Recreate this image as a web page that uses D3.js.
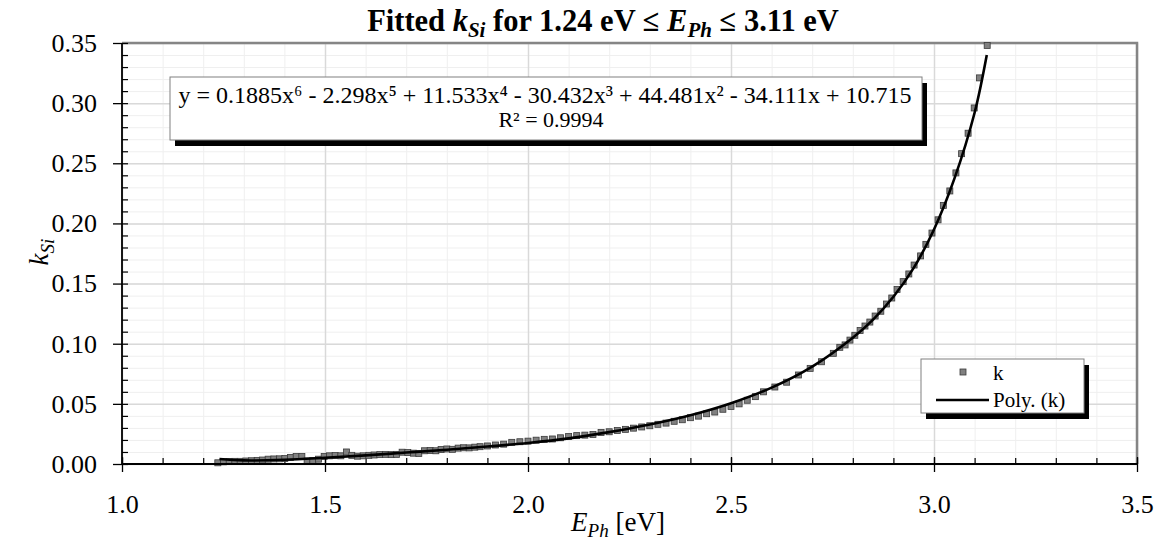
<!DOCTYPE html>
<html>
<head>
<meta charset="utf-8">
<script src="https://cdn.jsdelivr.net/npm/d3@7/dist/d3.min.js"></script>
<style>
  body { margin: 0; background: #fff; }
  svg { font-family: 'Liberation Serif', 'Times New Roman', serif; }
  .tick text { font-size: 26px; fill: #000; }
</style>
</head>
<body>
<svg width="1163" height="541"></svg>
<script>
// measured points (photon energy in eV, extinction coefficient k)
const energy = [
  1.236, 1.250, 1.264, 1.278, 1.291, 1.305, 1.319, 1.333, 1.346, 1.360,
  1.374, 1.388, 1.401, 1.415, 1.429, 1.443, 1.456, 1.470, 1.484, 1.498,
  1.511, 1.525, 1.539, 1.553, 1.566, 1.580, 1.594, 1.608, 1.621, 1.635,
  1.649, 1.663, 1.676, 1.690, 1.704, 1.718, 1.731, 1.745, 1.759, 1.773,
  1.786, 1.800, 1.814, 1.828, 1.841, 1.855, 1.869, 1.882,
  1.900, 1.920, 1.940, 1.960, 1.980, 2.000, 2.020, 2.040, 2.060, 2.080,
  2.100, 2.120, 2.140, 2.160, 2.180, 2.200, 2.220, 2.240, 2.260, 2.280,
  2.300, 2.320, 2.340, 2.360, 2.380, 2.400, 2.420, 2.440, 2.460, 2.480,
  2.500, 2.520, 2.540, 2.560, 2.580,
  2.608, 2.637, 2.666, 2.695, 2.723, 2.752, 2.768, 2.781, 2.793, 2.805,
  2.818, 2.830, 2.842, 2.855, 2.869, 2.883, 2.896, 2.909, 2.924, 2.938,
  2.951, 2.967, 2.980, 2.995, 3.010, 3.023, 3.039, 3.054, 3.068, 3.084,
  3.099, 3.112, 3.131
];
const kValues = [
  0.0010, 0.0018, 0.0020, 0.0022, 0.0022, 0.0025, 0.0027, 0.0030, 0.0033, 0.0040,
  0.0042, 0.0043, 0.0045, 0.0055, 0.0062, 0.0062, 0.0025, 0.0030, 0.0040, 0.0062,
  0.0068, 0.0070, 0.0068, 0.0100, 0.0072, 0.0065, 0.0068, 0.0072, 0.0075, 0.0078,
  0.0080, 0.0078, 0.0080, 0.0098, 0.0095, 0.0090, 0.0088, 0.0110, 0.0112, 0.0110,
  0.0120, 0.0125, 0.0122, 0.0132, 0.0135, 0.0134, 0.0140, 0.0144,
  0.0150, 0.0158, 0.0165, 0.0180, 0.0185, 0.0190, 0.0198, 0.0205, 0.0208, 0.0218,
  0.0228, 0.0236, 0.0240, 0.0245, 0.0262, 0.0268, 0.0278, 0.0288, 0.0298, 0.0308,
  0.0318, 0.0330, 0.0340, 0.0355, 0.0368, 0.0385, 0.0398, 0.0418, 0.0432, 0.0455,
  0.0478, 0.0500, 0.0530, 0.0560, 0.0600,
  0.064, 0.068, 0.074, 0.0795, 0.085, 0.092, 0.097, 0.099, 0.103, 0.107,
  0.111, 0.1147, 0.118, 0.123, 0.127, 0.133, 0.138, 0.145, 0.1516, 0.158,
  0.1654, 0.173, 0.1826, 0.192, 0.203, 0.215, 0.227, 0.242, 0.258, 0.275,
  0.296, 0.321, 0.348
];

// polynomial trendline
const fitEnergy = [1.24, 1.30, 1.40, 1.50, 1.60, 1.70, 1.80, 1.90, 2.00, 2.10, 2.20, 2.30,
  2.40, 2.50, 2.60, 2.70, 2.80, 2.85, 2.90, 2.95, 3.00, 3.05, 3.10, 3.13];
const fitK = [0.0042, 0.0030, 0.0035, 0.0052, 0.0072, 0.0095, 0.0118, 0.0145, 0.0175, 0.0213, 0.0265, 0.0328,
  0.0405, 0.0505, 0.0635, 0.081, 0.105, 0.120, 0.139, 0.163, 0.195, 0.237, 0.292, 0.340];

const xTickValues = [1.0, 1.5, 2.0, 2.5, 3.0, 3.5];
const yTickValues = [0, 0.05, 0.10, 0.15, 0.20, 0.25, 0.30, 0.35];

const equation = 'y = 0.1885x⁶ - 2.298x⁵ + 11.533x⁴ - 30.432x³ + 44.481x² - 34.111x + 10.715';
const rSquared = 'R² = 0.9994';
const legendLabels = ['k', 'Poly. (k)'];

const svg = d3.select('svg');
const width = +svg.attr('width');
const height = +svg.attr('height');

const margin = { top: 43, right: 26, bottom: 77, left: 122 };
const innerWidth = width - margin.left - margin.right;
const innerHeight = height - margin.top - margin.bottom;

const data = energy.map((e, i) => ({ e, k: kValues[i] }));
const fit = fitEnergy.map((e, i) => ({ e, k: fitK[i] }));

const xScale = d3.scaleLinear().domain([1.0, 3.5]).range([0, innerWidth]);
const yScale = d3.scaleLinear().domain([0, 0.35]).range([innerHeight, 0]);

const minorX = d3.range(10, 36).map(d => d / 10);
const minorY = d3.range(0, 36).map(d => d / 100);

const g = svg.append('g')
  .attr('transform', `translate(${margin.left},${margin.top})`);

// helper: axis used only for lines (grid / minor ticks)
const linesOnly = (sel, axis, color, w) => {
  sel.call(axis.tickFormat(''));
  sel.select('.domain').remove();
  sel.selectAll('.tick text').remove();
  sel.selectAll('line').attr('stroke', color).attr('stroke-width', w);
};

// minor grid
linesOnly(g.append('g'), d3.axisBottom(xScale).tickValues(minorX).tickSize(innerHeight), '#efefef', 1);
linesOnly(g.append('g'), d3.axisLeft(yScale).tickValues(minorY).tickSize(-innerWidth), '#efefef', 1);

// major grid
linesOnly(g.append('g'), d3.axisBottom(xScale).tickValues(xTickValues).tickSize(innerHeight), '#d9d9d9', 1.5);
linesOnly(g.append('g'), d3.axisLeft(yScale).tickValues(yTickValues).tickSize(-innerWidth), '#d9d9d9', 1.5);

// plot frame (top and right)
g.append('path')
  .attr('d', `M0,0H${innerWidth}V${innerHeight}`)
  .attr('fill', 'none')
  .attr('stroke', '#858585')
  .attr('stroke-width', 2.5);

// minor ticks inside
linesOnly(g.append('g').attr('transform', `translate(0,${innerHeight})`),
  d3.axisBottom(xScale).tickValues(minorX).tickSize(-6), '#000', 1.2);
linesOnly(g.append('g'), d3.axisLeft(yScale).tickValues(minorY).tickSize(-6), '#000', 1.2);

// data markers
g.selectAll('rect.pt').data(data)
  .enter().append('rect')
    .attr('class', 'pt')
    .attr('x', d => xScale(d.e) - 3)
    .attr('y', d => yScale(d.k) - 3)
    .attr('width', 6)
    .attr('height', 6)
    .attr('fill', '#808080')
    .attr('stroke', '#3a3a3a')
    .attr('stroke-width', 0.8);

// trendline
const line = d3.line()
  .x(d => xScale(d.e))
  .y(d => yScale(d.k))
  .curve(d3.curveCatmullRom);
g.append('path')
  .datum(fit)
  .attr('d', line)
  .attr('fill', 'none')
  .attr('stroke', '#000')
  .attr('stroke-width', 2.6);

// axes with major ticks crossing
const xAxisG = g.append('g')
  .attr('transform', `translate(0,${innerHeight})`)
  .call(d3.axisBottom(xScale).tickValues(xTickValues).tickSize(8).tickPadding(23)
    .tickFormat(d3.format('.1f')));
xAxisG.selectAll('.tick line').attr('y1', -7).attr('stroke-width', 1.3);
xAxisG.select('.domain').attr('stroke-width', 1.8).attr('d', `M0,0H${innerWidth}`);

const yAxisG = g.append('g')
  .call(d3.axisLeft(yScale).tickValues(yTickValues).tickSize(9).tickPadding(16)
    .tickFormat(d3.format('.2f')));
yAxisG.selectAll('.tick line').attr('x1', 0).attr('stroke-width', 1.3);
yAxisG.select('.domain').attr('stroke-width', 1.8).attr('d', `M0,0V${innerHeight}`);

[xAxisG, yAxisG].forEach(a => a.attr('font-family', null).attr('font-size', null));

// title
const title = svg.append('text')
  .attr('x', 603)
  .attr('y', 31)
  .attr('text-anchor', 'middle')
  .attr('font-size', 30.5)
  .attr('font-weight', 'bold');
title.append('tspan').text('Fitted ');
title.append('tspan').attr('font-style', 'italic').text('k');
title.append('tspan').attr('font-style', 'italic').attr('font-size', 21).attr('dy', 6).text('Si');
title.append('tspan').attr('dy', -6).text(' for 1.24 eV ≤ ');
title.append('tspan').attr('font-style', 'italic').text('E');
title.append('tspan').attr('font-style', 'italic').attr('font-size', 21).attr('dy', 6).text('Ph');
title.append('tspan').attr('dy', -6).text(' ≤ 3.11 eV');

// axis labels
const yLabel = svg.append('text')
  .attr('transform', 'translate(48,252) rotate(-90)')
  .attr('text-anchor', 'middle')
  .attr('font-size', 27);
yLabel.append('tspan').attr('font-style', 'italic').text('k');
yLabel.append('tspan').attr('font-style', 'italic').attr('font-size', 19).attr('dy', 6).text('Si');

const xLabel = svg.append('text')
  .attr('x', 618)
  .attr('y', 531)
  .attr('text-anchor', 'middle')
  .attr('font-size', 27);
xLabel.append('tspan').attr('font-style', 'italic').text('E');
xLabel.append('tspan').attr('font-style', 'italic').attr('font-size', 19).attr('dy', 6).text('Ph');
xLabel.append('tspan').attr('dy', -6).text(' [eV]');

// equation box
const eqBox = { x: 170, y: 77, w: 752, h: 63 };
svg.append('rect')
  .attr('x', eqBox.x + 5).attr('y', eqBox.y + 6)
  .attr('width', eqBox.w).attr('height', eqBox.h)
  .attr('fill', '#000');
svg.append('rect')
  .attr('x', eqBox.x).attr('y', eqBox.y)
  .attr('width', eqBox.w).attr('height', eqBox.h)
  .attr('fill', '#fff')
  .attr('stroke', '#808080')
  .attr('stroke-width', 1);

svg.append('text')
  .attr('x', 545)
  .attr('y', 103)
  .attr('text-anchor', 'middle')
  .attr('font-size', 24)
  .text(equation);
svg.append('text')
  .attr('x', 551)
  .attr('y', 127)
  .attr('text-anchor', 'middle')
  .attr('font-size', 22)
  .text(rSquared);

// legend
const lg = { x: 921, y: 359, w: 163, h: 54 };
svg.append('rect')
  .attr('x', lg.x + 5).attr('y', lg.y + 6)
  .attr('width', lg.w).attr('height', lg.h)
  .attr('fill', '#000');
svg.append('rect')
  .attr('x', lg.x).attr('y', lg.y)
  .attr('width', lg.w).attr('height', lg.h)
  .attr('fill', '#fff')
  .attr('stroke', '#808080')
  .attr('stroke-width', 1);
svg.append('rect')
  .attr('x', 960).attr('y', 369)
  .attr('width', 6).attr('height', 6)
  .attr('fill', '#808080')
  .attr('stroke', '#3a3a3a')
  .attr('stroke-width', 0.8);
svg.append('line')
  .attr('x1', 936).attr('x2', 989)
  .attr('y1', 400).attr('y2', 400)
  .attr('stroke', '#000')
  .attr('stroke-width', 2.6);
svg.append('text')
  .attr('x', 993).attr('y', 380)
  .attr('font-size', 21)
  .text(legendLabels[0]);
svg.append('text')
  .attr('x', 993).attr('y', 407)
  .attr('font-size', 21)
  .text(legendLabels[1]);
</script>
</body>
</html>
